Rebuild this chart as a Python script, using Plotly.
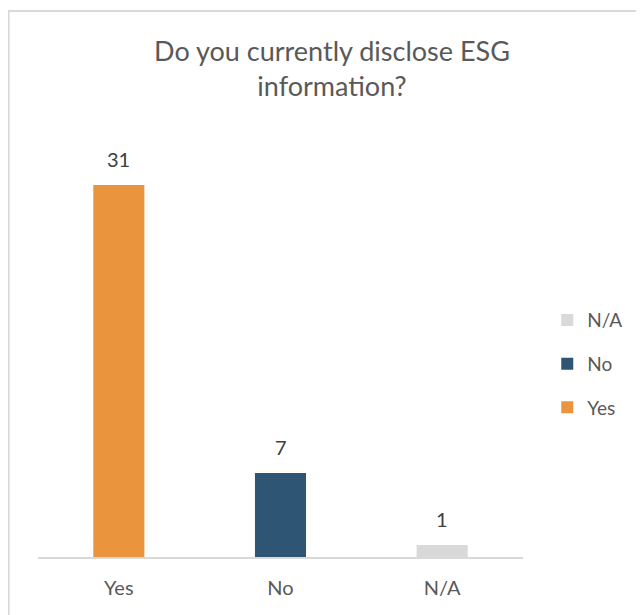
import plotly.graph_objects as go

categories = ["Yes", "No", "N/A"]
counts = [31, 7, 1]
colors = ["#EB943E", "#2F5574", "#D9D9D9"]

FONT = "Lato, 'Open Sans', sans-serif"

fig = go.Figure()
# add in reverse so the legend lists N/A, No, Yes from the top
for cat, val, col in reversed(list(zip(categories, counts, colors))):
    fig.add_trace(go.Bar(
        x=[cat], y=[val], name=cat,
        marker=dict(color=col, line=dict(width=0)),
        width=0.316,
        legendgroup=cat,
    ))

# value labels above the bars
for cat, val in zip(categories, counts):
    fig.add_annotation(
        x=cat, y=val, text=str(val), showarrow=False,
        yanchor="bottom", yshift=12,
        font=dict(size=20, color="#404040", family=FONT),
    )

fig.update_layout(
    width=644, height=615,
    margin=dict(l=30, r=129, t=142, b=66),
    paper_bgcolor="white", plot_bgcolor="white",
    barmode="overlay",
    font=dict(family=FONT, color="#595959"),
    title=dict(
        text="Do you currently disclose ESG<br>information?",
        x=324 / 644, xanchor="center", xref="container",
        y=1 - 53 / 615, yanchor="top", yref="container",
        font=dict(size=27, color="#595959", family=FONT),
    ),
    showlegend=True,
    legend=dict(
        traceorder="grouped", tracegroupgap=16,
        x=1.05, xanchor="left", y=0.474, yanchor="middle",
        font=dict(size=19, color="#595959", family=FONT),
        itemwidth=30,
    ),
    xaxis=dict(
        categoryorder="array", categoryarray=categories,
        showline=True, linecolor="#D9D9D9", linewidth=2,
        ticks="", showgrid=False, ticklabelstandoff=12,
        tickfont=dict(size=20, color="#595959", family=FONT),
    ),
    yaxis=dict(
        range=[0, 33.92], visible=False, showgrid=False, zeroline=False,
    ),
    shapes=[dict(
        type="rect", xref="paper", yref="paper",
        x0=-0.0606, x1=2, y0=-1, y1=1.3415,
        line=dict(color="#D9D9D9", width=2), fillcolor="rgba(0,0,0,0)",
        layer="below",
    )],
)

fig.write_html("out.html")
